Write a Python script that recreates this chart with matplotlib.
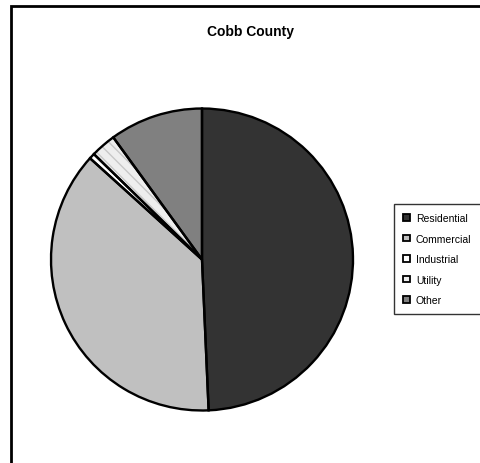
import matplotlib
matplotlib.use('Agg')
import matplotlib.pyplot as plt
from matplotlib.patches import Rectangle, Patch

plt.rcParams['font.family'] = ['Liberation Sans', 'DejaVu Sans']

# Share of total by customer class.
labels = ['Residential', 'Commercial', 'Industrial', 'Utility', 'Other']
shares = [49.3, 37.4, 0.6, 2.7, 10.0]
colors = ['#333333', '#c0c0c0', '#ffffff', '#eeeeee', '#808080']
title = 'Cobb County'

W, H = 480, 464
fig = plt.figure(figsize=(W / 100, H / 100), dpi=100)

# Outer chart frame (runs off the right and bottom edges).
fig.patches.append(Rectangle((11 / W, -0.1), 1.2, (H - 7) / H + 0.1,
                             transform=fig.transFigure, fill=False,
                             edgecolor='black', linewidth=2))

fig.text(250 / W, 1 - 32 / H, title, ha='center', va='center',
         fontsize=10, fontweight='bold')

# Pie axes: centre (202, 260.5) px, radius 152.5 px.
cx, cy, r = 202, 260.5, 152.5
ax = fig.add_axes([(cx - r) / W, (H - cy - r) / H, 2 * r / W, 2 * r / H])
wedges, _ = ax.pie(shares, colors=colors, startangle=90, counterclock=False,
                   wedgeprops=dict(linewidth=0))
# Faint stripes on the Utility slice.
wedges[3].set_hatch('\\\\\\')
wedges[3].set_edgecolor('#c8c8c8')
# Black outlines on top.
ax.pie(shares, colors=['none'] * len(shares), startangle=90,
       counterclock=False,
       wedgeprops=dict(linewidth=1.7, edgecolor='black', fill=False))
ax.set_xlim(-1.01, 1.01)
ax.set_ylim(-1.01, 1.01)
ax.set_aspect('equal')
ax.axis('off')

handles = [Patch(facecolor=c, edgecolor='black', linewidth=1.3) for c in colors]
leg = fig.legend(handles, labels, loc='upper left',
                 bbox_to_anchor=(394 / W, 1 - 205 / H),
                 fontsize=7.5, frameon=True, fancybox=False,
                 edgecolor='black', handlelength=0.6, handleheight=0.6,
                 handletextpad=0.6, labelspacing=1.0, borderpad=0.9,
                 borderaxespad=0)
leg.get_frame().set_linewidth(1)

fig.savefig('out.png', dpi=100)
